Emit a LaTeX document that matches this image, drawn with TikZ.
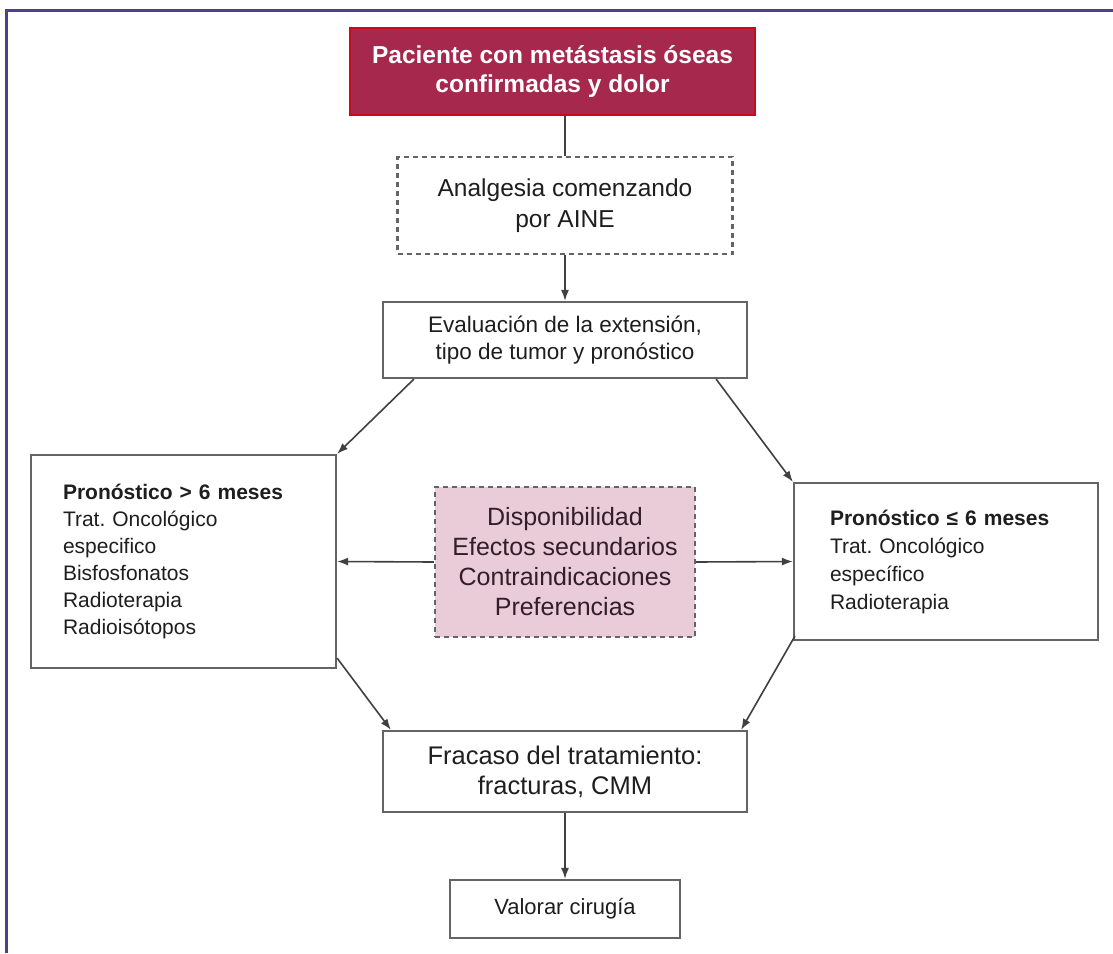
\documentclass[tikz,border=0pt]{standalone}
\usepackage{fontspec}
\setmainfont{Liberation Sans}
\frenchspacing
\usetikzlibrary{arrows.meta,calc}
\definecolor{framecol}{RGB}{80,62,145}
\definecolor{topfill}{RGB}{166,40,76}
\definecolor{topborder}{RGB}{200,10,30}
\definecolor{pinkfill}{RGB}{234,204,216}
\definecolor{boxline}{RGB}{100,100,100}
\definecolor{txt}{RGB}{30,30,30}
\definecolor{pinktxt}{RGB}{50,30,40}
\begin{document}
\begin{tikzpicture}[x=1pt,y=-1pt,
  box/.style={draw=boxline, line width=2.2pt, inner sep=0pt, text=txt, align=center},
  conn/.style={draw=black!75, line width=1.6pt},
  arr/.style={conn, -{Latex[length=11pt,width=8pt]}},
]
\useasboundingbox (0,0) rectangle (1113,953);
\fill[white] (0,0) rectangle (1113,953);
\draw[framecol, line width=3pt] (6,953) -- (6,10) -- (1113,10);

\node[box, draw=topborder, fill=topfill, text=white, minimum width=405pt, minimum height=87pt,
      font=\bfseries\fontsize{24.5}{29}\selectfont] (top) at (552.5,71.5)
      {Paciente con metástasis óseas\\confirmadas y dolor};

\node[box, dashed, dash pattern=on 5pt off 4pt, minimum width=335pt, minimum height=97pt,
      font=\fontsize{24.5}{31}\selectfont] (anal) at (565,205.5)
      {Analgesia comenzando\\por AINE};

\node[box, minimum width=364pt, minimum height=76pt,
      font=\fontsize{22.5}{27}\selectfont] (eval) at (565,340)
      {Evaluación de la extensión,\\tipo de tumor y pronóstico};

\node[box, minimum width=305pt, minimum height=213pt, align=left, text width=241pt,
      font=\fontsize{21}{27}\selectfont] (left) at (183.5,561.5)
      {\textbf{Pronóstico > 6 meses}\\Trat. Oncológico\\especifico\\Bisfosfonatos\\Radioterapia\\Radioisótopos};

\node[box, dashed, dash pattern=on 5pt off 4pt, fill=pinkfill, text=pinktxt, minimum width=260pt, minimum height=150pt,
      font=\fontsize{25}{30}\selectfont] (pink) at (565,562)
      {Disponibilidad\\Efectos secundarios\\Contraindicaciones\\Preferencias};

\node[box, minimum width=304pt, minimum height=157pt, align=left, text width=232pt,
      font=\fontsize{21}{28}\selectfont] (right) at (946,561.5)
      {\textbf{Pronóstico ≤ 6 meses}\\Trat. Oncológico\\específico\\Radioterapia};

\node[box, minimum width=364pt, minimum height=81pt,
      font=\fontsize{25.5}{30}\selectfont] (fra) at (565,771.5)
      {Fracaso del tratamiento:\\fracturas, CMM};

\node[box, minimum width=230pt, minimum height=58pt,
      font=\fontsize{22}{26}\selectfont] (val) at (565,909)
      {Valorar cirugía};

\draw[conn] (top.south -| anal.north) -- (anal.north);
\draw[arr] (anal.south) -- (eval.north);
\draw[arr] ($(eval.south west)+(32,0)$) -- (left.north east);
\draw[arr] ($(eval.south east)+(-32,0)$) -- (right.north west);
\draw[arr] (pink.west) -- (left.east);
\draw[arr] (pink.east) -- (right.west);
\draw[arr] ($(left.south east)+(0,-11)$) -- ($(fra.north west)+(9,0)$);
\draw[arr] ($(right.south west)+(2,-5)$) -- ($(fra.north east)+(-7,0)$);
\draw[arr] (fra.south) -- (val.north);
\end{tikzpicture}
\end{document}
